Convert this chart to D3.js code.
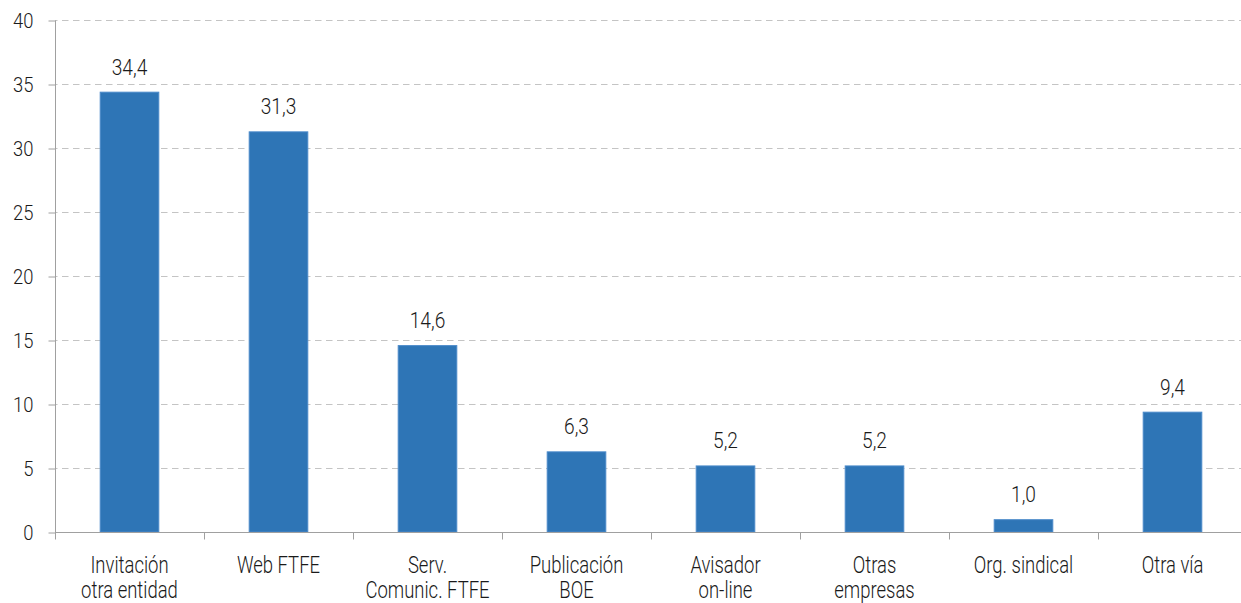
<!DOCTYPE html>
<html>
<head>
<meta charset="utf-8">
<script src="https://cdn.jsdelivr.net/npm/d3@7"></script>
<style>
  html, body { margin: 0; padding: 0; background: #fff; }
  svg { display: block; }
  text { font-family: "Roboto", "Liberation Sans", sans-serif; font-weight: 300; fill: #1a1a1a; }
</style>
</head>
<body>
<svg id="chart" width="1241" height="603"></svg>
<script>
const categories = ["Invitación\notra entidad", "Web FTFE", "Serv.\nComunic. FTFE", "Publicación\nBOE", "Avisador\non-line", "Otras\nempresas", "Org. sindical", "Otra vía"];
const values = [34.4, 31.3, 14.6, 6.3, 5.2, 5.2, 1.0, 9.4];
const valueLabels = ["34,4", "31,3", "14,6", "6,3", "5,2", "5,2", "1,0", "9,4"];
const yTicks = [0, 5, 10, 15, 20, 25, 30, 35, 40];

(function () {
const svg = d3.select("#chart");
const mLeft = 55, mRight = 1247, mTop = 20, mBottom = 532;

const x = d3.scaleBand().domain(categories).range([mLeft, mRight]).paddingInner(0.6).paddingOuter(0.3);
const xCell = d3.scaleBand().domain(categories).range([mLeft, mRight]).padding(0);
const y = d3.scaleLinear().domain([0, 40]).range([mBottom, mTop]);

// gridlines
svg.append("g").selectAll("line").data(yTicks.filter(d => d > 0)).join("line")
  .attr("x1", mLeft).attr("x2", 1241)
  .attr("y1", d => y(d) + 0.5).attr("y2", d => y(d) + 0.5)
  .attr("stroke", "#c4c4c4").attr("stroke-width", 1.2)
  .attr("stroke-dasharray", "6.5,4.5").attr("stroke-dashoffset", -7);

// y axis
const yAxis = d3.axisLeft(y).tickValues(yTicks).tickSize(7).tickPadding(15).tickFormat(d3.format("d"));
const gy = svg.append("g").attr("transform", `translate(${mLeft + 0.5},0.5)`).call(yAxis);
gy.select(".domain").attr("stroke", "#a0a0a0").attr("d", `M0,${mTop}V${mBottom + 7}`);
gy.selectAll(".tick line").attr("stroke", "#a0a0a0");
gy.selectAll(".tick text").style("font-size", "20px").attr("fill", "#1a1a1a").attr("dy", "0.36em")
  .attr("transform", "scale(0.92,1)").attr("x", -22 / 0.92);

// bars
svg.append("g").selectAll("rect").data(values).join("rect")
  .attr("x", (d, i) => x(categories[i]) + 0.5)
  .attr("y", d => y(d) + 0.5)
  .attr("width", x.bandwidth() - 1)
  .attr("height", d => y(0) - y(d) - 0.5)
  .attr("fill", "#2E75B6")
  .attr("stroke", "#4a89c9").attr("stroke-width", 1);

// x axis
const gx = svg.append("g").attr("transform", `translate(0,${mBottom + 0.5})`);
gx.append("line").attr("x1", mLeft).attr("x2", 1241).attr("stroke", "#a0a0a0");
gx.selectAll(".xt").data(categories.slice(1)).join("line").attr("class", "xt")
  .attr("x1", d => xCell(d) + 0.5).attr("x2", d => xCell(d) + 0.5)
  .attr("y1", 0).attr("y2", 7).attr("stroke", "#a0a0a0");

// category labels
const cl = svg.append("g").selectAll("text").data(categories).join("text")
  .attr("text-anchor", "middle")
  .style("font-size", "24px")
  .attr("transform", d => `translate(${xCell(d) + xCell.bandwidth() / 2},573) scale(0.77,1)`);
cl.each(function(d) {
  const lines = d.split("\n");
  d3.select(this).selectAll("tspan").data(lines).join("tspan")
    .attr("x", 0).attr("y", (l, i) => i * 25).text(l => l);
});

// value labels
svg.append("g").selectAll("text").data(values).join("text")
  .attr("text-anchor", "middle")
  .style("font-size", "22px")
  .attr("transform", (d, i) => `translate(${x(categories[i]) + x.bandwidth() / 2},${y(d) - 17}) scale(0.87,1)`)
  .text((d, i) => valueLabels[i]);
})();
</script>
</body>
</html>
